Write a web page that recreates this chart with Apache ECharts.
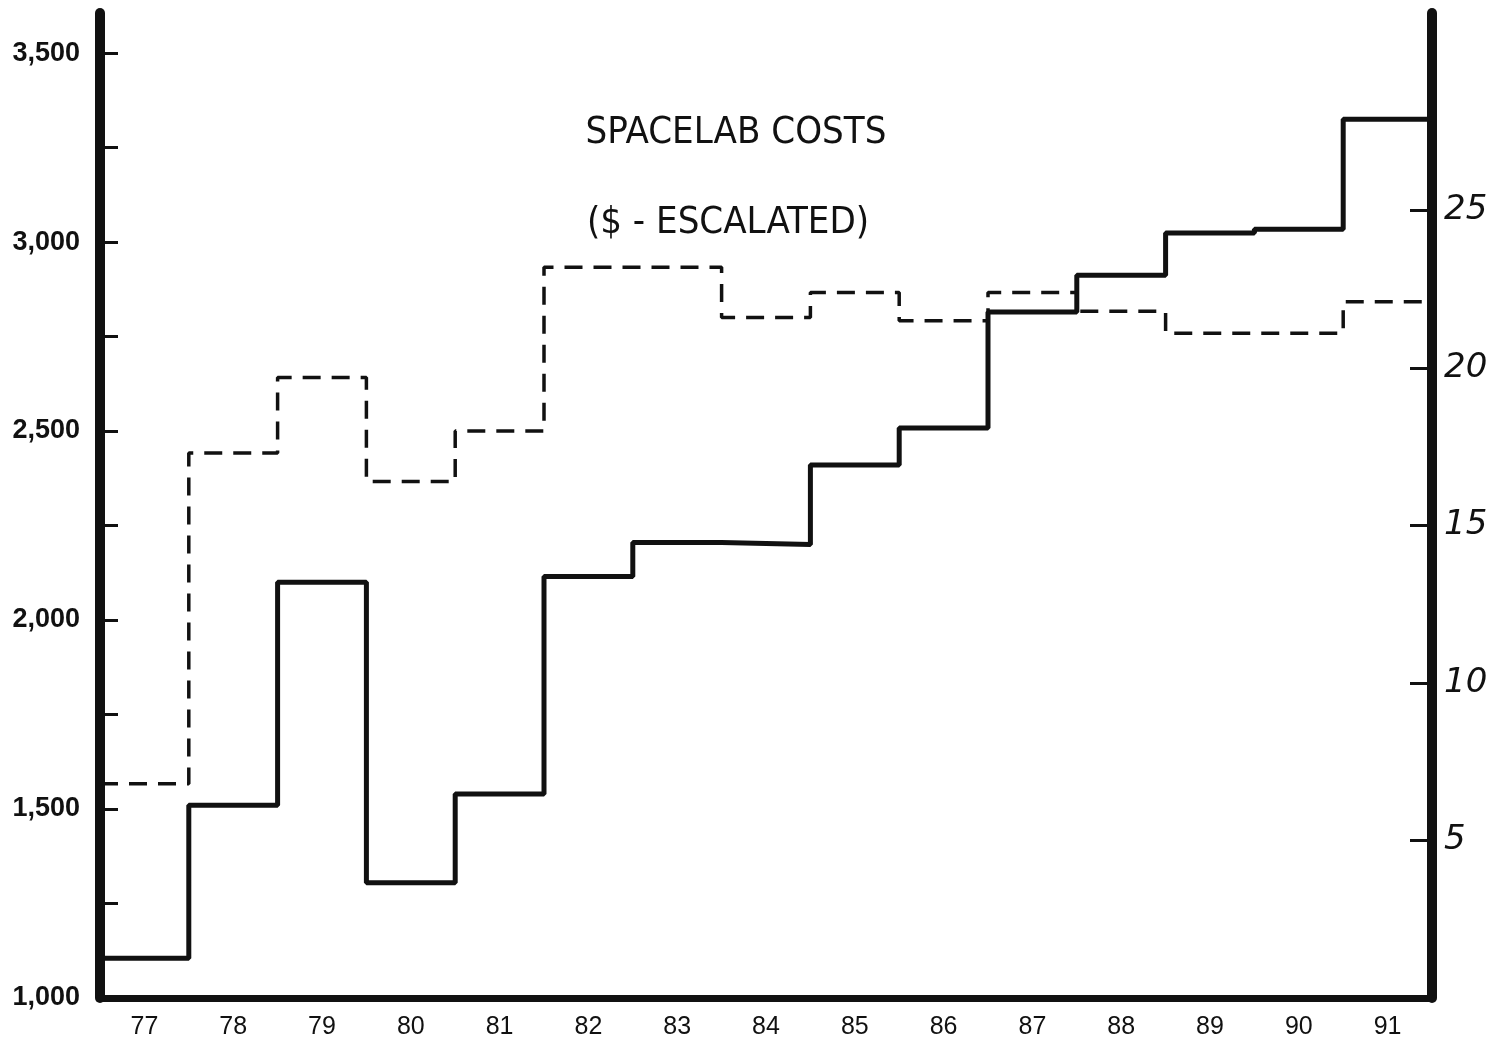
<!DOCTYPE html>
<html>
<head>
<meta charset="utf-8">
<script src="https://cdn.jsdelivr.net/npm/echarts@6/dist/echarts.min.js"></script>
<style>
  html, body { margin: 0; padding: 0; background: #fff; }
  #chart { width: 1500px; height: 1043px; }
</style>
</head>
<body>
<div id="chart"></div>
<script>
// 年份（77 - 91）
var years = ['77', '78', '79', '80', '81', '82', '83', '84', '85', '86', '87', '88', '89', '90', '91'];
// 实线：左轴（1,000 - 3,500）
var solidCosts = [1105, 1510, 2100, 1305, 1540, 2115, 2205, 2200, 2410, 2508, 2815, 2912, 3024, 3034, 3325];
// 虚线：右轴（5 - 25）
var dashedCosts = [6.8, 17.3, 19.7, 16.4, 18.0, 23.2, 23.2, 21.6, 22.4, 21.5, 22.4, 21.8, 21.1, 21.1, 22.1];
// 刻度
var leftLabels = [1000, 1500, 2000, 2500, 3000, 3500];
var leftTicks = [1250, 1500, 1750, 2000, 2250, 2500, 2750, 3000, 3250, 3500];
var rightTicks = [5, 10, 15, 20, 25];

// 阶梯线：每年一段，末尾补一个点让最后一年画满
function stepData(vals) {
    var out = [];
    for (var i = 0; i < vals.length; i++) out.push([i, vals[i]]);
    out.push([vals.length, vals[vals.length - 1]]);
    return out;
}

var chart = echarts.init(document.getElementById('chart'));
var option = {
    backgroundColor: '#ffffff',
    animation: false,
    title: [{
        text: 'SPACELAB COSTS',
        left: 731, top: 109,
        textAlign: 'center',
        textStyle: { fontFamily: 'DejaVu Sans Condensed', fontSize: 38, fontWeight: 'normal', color: '#111' }
    }, {
        text: '($ - ESCALATED)',
        left: 723, top: 199,
        textAlign: 'center',
        textStyle: { fontFamily: 'DejaVu Sans Condensed', fontSize: 38, fontWeight: 'normal', color: '#111' }
    }],
    grid: { left: 100, right: 68, top: 13, bottom: 45, containLabel: false },
    xAxis: [{
        type: 'category',
        data: years,
        boundaryGap: true,
        axisLine: { lineStyle: { color: '#111', width: 7 } },
        axisTick: { inside: true, length: 18, lineStyle: { color: '#111', width: 3 } },
        axisLabel: { margin: 17, fontFamily: 'Liberation Sans', fontSize: 25, color: '#111' },
        splitLine: { show: false }
    }, {
        type: 'value',
        min: 0, max: 15,
        show: false
    }],
    yAxis: [{
        type: 'value',
        min: 1000, max: 3606,
        position: 'left',
        axisLine: { show: true, lineStyle: { color: '#111', width: 10 } },
        axisTick: { show: true, inside: true, length: 18, customValues: leftTicks, lineStyle: { color: '#111', width: 3 } },
        axisLabel: {
            customValues: leftLabels,
            margin: 20,
            fontFamily: 'Liberation Sans', fontSize: 27, fontWeight: 'bold', color: '#111',
            formatter: function (v) { return v.toLocaleString('en-US'); }
        },
        splitLine: { show: false }
    }, {
        type: 'value',
        min: 0, max: 31.27,
        position: 'right',
        axisLine: { show: true, lineStyle: { color: '#111', width: 10 } },
        axisTick: { show: true, inside: true, length: 22, customValues: rightTicks, lineStyle: { color: '#111', width: 3 } },
        axisLabel: {
            customValues: rightTicks,
            margin: 12,
            fontFamily: 'DejaVu Sans', fontStyle: 'italic', fontSize: 34, color: '#111'
        },
        splitLine: { show: false }
    }],
    series: [{
        name: 'solid',
        type: 'line',
        xAxisIndex: 1, yAxisIndex: 0,
        step: 'end',
        symbol: 'none',
        data: stepData(solidCosts),
        lineStyle: { color: '#111', width: 5 }
    }, {
        name: 'dashed',
        type: 'line',
        xAxisIndex: 1, yAxisIndex: 1,
        step: 'end',
        symbol: 'none',
        data: stepData(dashedCosts),
        lineStyle: { color: '#111', width: 3.5, type: [18, 11] }
    }]
};
chart.setOption(option);
</script>
</body>
</html>
